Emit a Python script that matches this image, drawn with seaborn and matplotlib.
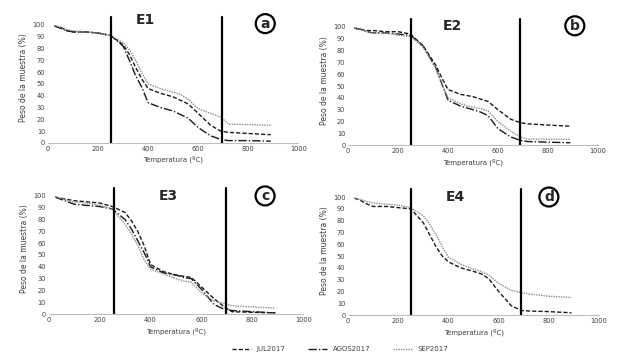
import pandas as pd
import matplotlib
matplotlib.use("Agg")
import matplotlib.pyplot as plt
import seaborn as sns
from matplotlib.lines import Line2D

# temperaturas (ºC) y peso (%)
temp = [25, 50, 75, 100, 150, 200, 250, 300, 325, 350, 375, 400, 450, 500, 530, 560, 600, 650, 690, 720, 800, 890]

e1_jul = [99, 98, 95, 94, 94, 93, 91, 83, 75, 64, 54, 46, 42, 39, 36, 33, 25, 15, 10, 9, 8, 7]
e1_ago = [99, 97, 95, 94, 94, 93, 91, 82, 70, 57, 47, 34, 30, 27, 24, 21, 13, 6, 3, 2, 2, 1.5]
e1_sep = [99, 98, 96, 95, 94, 93, 91, 85, 79, 70, 59, 50, 46, 43, 41, 37, 29, 25, 22, 16, 15.5, 15]

e2_jul = [99, 98, 97, 97, 96, 96, 94, 84, 76, 68, 57, 47, 43, 41, 39, 37, 30, 22, 19, 18, 17, 16]
e2_ago = [99, 98, 96, 95, 95, 94, 93, 84, 75, 66, 52, 38, 33, 30, 28, 25, 14, 7, 4, 3, 2.5, 2]
e2_sep = [99, 98, 96, 95, 95, 93, 92, 83, 74, 65, 52, 40, 35, 32, 31, 29, 20, 12, 7, 5, 5, 5]

e3_jul = [99, 98, 97, 96, 95, 94, 91, 86, 79, 70, 58, 42, 36, 33, 32, 31, 23, 13, 6, 2, 1.5, 1]
e3_ago = [99, 97, 95, 93, 92, 91, 89, 80, 72, 62, 52, 40, 35, 33, 31, 30, 21, 8, 4, 3, 2, 1]
e3_sep = [99, 98, 96, 95, 94, 92, 89, 76, 68, 58, 46, 38, 34, 30, 28, 27, 18, 11, 9, 7, 6, 5]

e4_jul = [99, 97, 94, 92, 92, 91, 90, 78, 68, 58, 50, 45, 40, 37, 35, 31, 20, 8, 4, 3.5, 3, 2]
e4_sep = [99, 98, 96, 95, 94, 93, 91, 84, 77, 68, 58, 49, 43, 39, 37, 34, 27, 21, 19, 18, 16, 15]

series_names = ["JUL2017", "AGOS2017", "SEP2017"]
panel_titles = ["E1", "E2", "E3", "E4"]
panel_letters = ["a", "b", "c", "d"]

panels = [
    {"JUL2017": e1_jul, "AGOS2017": e1_ago, "SEP2017": e1_sep},
    {"JUL2017": e2_jul, "AGOS2017": e2_ago, "SEP2017": e2_sep},
    {"JUL2017": e3_jul, "AGOS2017": e3_ago, "SEP2017": e3_sep},
    {"JUL2017": e4_jul, "SEP2017": e4_sep},
]

styles = {
    "JUL2017": dict(color="#1a1a1a", linestyle=(0, (3, 1.5)), linewidth=1.0),
    "AGOS2017": dict(color="#1a1a1a", linestyle=(0, (6, 1.5, 1, 1.5)), linewidth=1.0),
    "SEP2017": dict(color="#8c8c8c", linestyle=(0, (1, 0.8)), linewidth=1.0),
}

sns.set_style("white")
plt.rcParams["font.family"] = ["DejaVu Sans"]

fig = plt.figure(figsize=(6.24, 3.61), dpi=100)
boxes = [
    [0.077, 0.604, 0.401, 0.36],
    [0.558, 0.598, 0.400, 0.36],
    [0.078, 0.130, 0.408, 0.36],
    [0.558, 0.127, 0.402, 0.36],
]
label_pos = [(390, 104, 868, 101), (416, 101, 908, 101), (468, 100, 850, 100), (427, 100, 800, 100)]
vlines = [(250, 695), (250, 690), (255, 695), (250, 690)]

for i, data in enumerate(panels):
    ax = fig.add_axes(boxes[i])
    for name, vals in data.items():
        df = pd.DataFrame({"temp": temp, "peso": vals})
        sns.lineplot(data=df, x="temp", y="peso", ax=ax, **styles[name])
    for xv in vlines[i]:
        ax.axvline(xv, color="black", linewidth=1.6, ymax=0.97)
    ax.set_xlim(0, 1000)
    ax.set_ylim(0, 110)
    ax.set_xticks(range(0, 1001, 200))
    ax.set_yticks(range(0, 101, 10))
    ax.tick_params(labelsize=4.8, colors="#404040", length=0, pad=2)
    ax.set_xlabel("Temperatura (ºC)", fontsize=5, color="#404040", labelpad=3)
    ax.set_ylabel("Peso de la muestra (%)", fontsize=5.5, color="#404040", labelpad=3)
    sns.despine(ax=ax, left=True)
    ax.spines["bottom"].set_color("#bfbfbf")
    ax.spines["bottom"].set_linewidth(0.8)
    ex, ey, cx, cy = label_pos[i]
    ax.text(ex, ey, panel_titles[i], fontsize=10, fontweight="bold", ha="center", va="center")
    ax.text(cx, cy, panel_letters[i], fontsize=10, fontweight="bold", ha="center", va="center",
            bbox=dict(boxstyle="circle,pad=0.18", facecolor="white", edgecolor="black", linewidth=1.6))

handles = [Line2D([0], [0], **styles[n]) for n in series_names]
fig.legend(handles, series_names, loc="center", bbox_to_anchor=(0.545, 0.033), ncol=3,
           frameon=False, fontsize=5, handlelength=2.8, columnspacing=3.2,
           labelcolor="#404040")

fig.savefig("out.png", dpi=100, facecolor="white")
